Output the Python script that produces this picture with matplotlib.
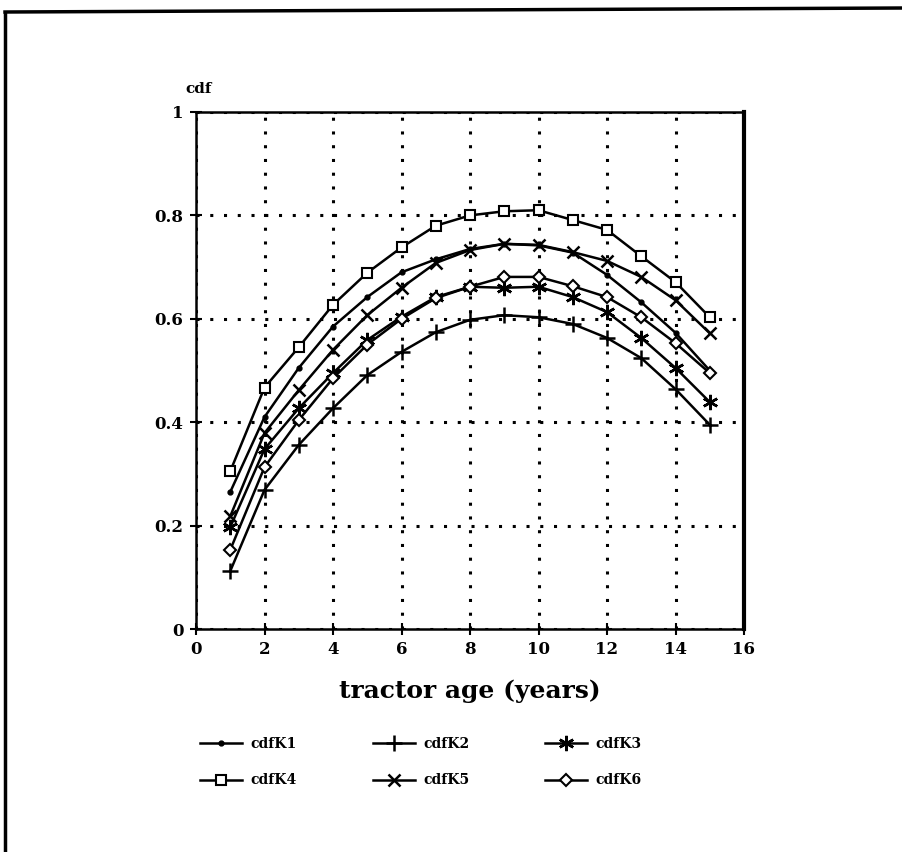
import matplotlib.pyplot as plt
from matplotlib.lines import Line2D

# tractor age (years) and cdf for each K-series
age = [1, 2, 3, 4, 5, 6, 7, 8, 9, 10, 11, 12, 13, 14, 15]
cdfK1 = [0.265, 0.41, 0.505, 0.585, 0.642, 0.69, 0.715, 0.735, 0.745, 0.742, 0.728, 0.685, 0.632, 0.573, 0.50]
cdfK2 = [0.112, 0.269, 0.356, 0.427, 0.491, 0.536, 0.574, 0.598, 0.607, 0.603, 0.59, 0.563, 0.524, 0.464, 0.395]
cdfK3 = [0.197, 0.348, 0.427, 0.495, 0.559, 0.604, 0.642, 0.662, 0.66, 0.662, 0.642, 0.613, 0.563, 0.505, 0.439]
cdfK4 = [0.305, 0.467, 0.545, 0.627, 0.689, 0.738, 0.78, 0.80, 0.808, 0.81, 0.791, 0.772, 0.721, 0.671, 0.603]
cdfK5 = [0.218, 0.379, 0.462, 0.54, 0.607, 0.66, 0.708, 0.733, 0.745, 0.743, 0.729, 0.712, 0.681, 0.636, 0.572]
cdfK6 = [0.153, 0.313, 0.404, 0.485, 0.55, 0.60, 0.64, 0.662, 0.681, 0.681, 0.663, 0.642, 0.603, 0.553, 0.495]

xticks = [0, 2, 4, 6, 8, 10, 12, 14, 16]
yticks = [0, 0.2, 0.4, 0.6, 0.8, 1]
ytick_labels = ['0', '0.2', '0.4', '0.6', '0.8', '1']

plt.rcParams['font.family'] = 'DejaVu Serif'
plt.rcParams['font.weight'] = 'bold'

fig = plt.figure(figsize=(9.03, 8.52), dpi=100)
ax = fig.add_axes([196 / 903, 1 - 629 / 852, 548 / 903, 517 / 852])

series = [
    ('cdfK1', cdfK1, dict(marker='o', markersize=3.5, markerfacecolor='black')),
    ('cdfK4', cdfK4, dict(marker='s', markersize=7.5, markerfacecolor='white', markeredgewidth=1.5)),
    ('cdfK2', cdfK2, dict(marker='+', markersize=11, markeredgewidth=1.8)),
    ('cdfK5', cdfK5, dict(marker='x', markersize=8.5, markeredgewidth=1.8)),
    ('cdfK3', cdfK3, dict(marker=(6, 2, 0), markersize=11, markeredgewidth=1.8)),
    ('cdfK6', cdfK6, dict(marker='D', markersize=6, markerfacecolor='white', markeredgewidth=1.5)),
]
for name, vals, style in series:
    ax.plot(age, vals, color='black', linewidth=1.8, label=name, zorder=3, **style)

ax.set_xlim(0, 16)
ax.set_ylim(0, 1)
ax.set_xticks(xticks)
ax.set_yticks(yticks)
ax.set_yticklabels(ytick_labels)
ax.grid(True, color='black', linestyle=(0, (1, 3.5)), linewidth=2.2)
ax.tick_params(direction='inout', length=8, width=1.5, labelsize=12, pad=5)
for sp in ax.spines.values():
    sp.set_linewidth(1.8)
ax.spines['right'].set_linewidth(3)

ax.set_xlabel('tractor age (years)', fontsize=18, fontweight='bold', labelpad=15)
ax.text(-0.02, 1.03, 'cdf', transform=ax.transAxes, fontsize=11, fontweight='bold',
        ha='left', va='bottom')

ax.legend(loc='upper left', bbox_to_anchor=(-0.015, -0.185), ncol=3, frameon=False,
          fontsize=10, handlelength=3.0, columnspacing=5.5, labelspacing=1.6,
          handletextpad=0.6)

# outer frame lines around the page
fig.add_artist(Line2D([5 / 903, 5 / 903], [0, 1 - 14 / 852], color='black', linewidth=2.5))
fig.add_artist(Line2D([5 / 903, 1], [1 - 12 / 852, 1 - 8 / 852], color='black', linewidth=2.5))

fig.savefig('out.png', dpi=100)
